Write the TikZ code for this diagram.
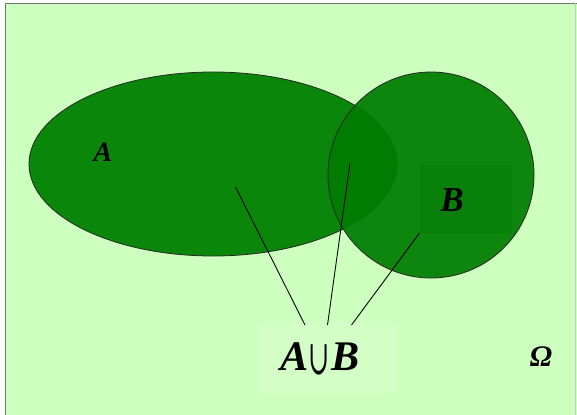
\documentclass[tikz,border=0pt]{standalone}
\usepackage{fontspec}
\setmainfont{Liberation Serif}
\newfontfamily\setsymfont{DejaVu Serif}
\usepackage{tikz}

\definecolor{bgGreen}{RGB}{205,255,190}
\definecolor{boxGreen}{RGB}{211,255,198}
\definecolor{setA}{RGB}{10,135,10}
\definecolor{setB}{RGB}{0,125,0}
\definecolor{boxB}{RGB}{9,128,9}
\definecolor{frameGray}{RGB}{110,120,110}

\begin{document}
\begin{tikzpicture}[x=0.02cm, y=-0.02cm,
    setline/.style={draw=black!85, line width=0.45pt},
    pointer/.style={draw=black, line width=0.5pt},
    lbl/.style={inner sep=0pt, font=\bfseries\itshape}]
    % Frame
    \useasboundingbox (0,0) rectangle (577,415);
    \fill [white] (0,0) rectangle (577,415);
    \fill [bgGreen] (5,3) rectangle (577,415);
    \draw [frameGray, line width=1pt] (5.5,415) -- (5.5,3.5) -- (577,3.5);
    \draw [frameGray!40, line width=0.5pt] (575.5,3.5) -- (575.5,415);

    % Sets
    \path [setline, fill=setA] (213,164) ellipse [x radius=184, y radius=92];
    \path [setline, fill=setB, fill opacity=0.93] (431,175) circle [radius=103];
    \fill [boxB] (420,165) rectangle (512,233);
    \fill [boxGreen] (258,323) rectangle (396,393);

    % Nodes
    \node [lbl, font=\fontsize{16}{18}\selectfont\bfseries\itshape] (labA) at (103,152) {A};
    \node [lbl, font=\fontsize{20}{22}\selectfont\bfseries\itshape] (labB) at (452,200) {B};
    \node [lbl, font=\fontsize{17}{19}\selectfont\bfseries\itshape] (omega) at (541,357) {Ω};
    \node [lbl, font=\fontsize{24}{26}\selectfont\bfseries\itshape] (union) at (320,359)
           {A\raisebox{-0.08em}{\scalebox{0.6}[1.15]{\setsymfont\mdseries\upshape ∪}}\kern0.05em B};

    % Pointer ends
    \coordinate (inA)  at (235.5,187);
    \coordinate (inAB) at (350,163);
    \coordinate (inB)  at (419.5,233);
    \coordinate (toA)  at (305,325);
    \coordinate (toAB) at (327.5,325);
    \coordinate (toB)  at (351.5,325);

    % Paths
    \path [pointer] (inA)  -- (toA);
    \path [pointer] (inAB) -- (toAB);
    \path [pointer] (inB)  -- (toB);
\end{tikzpicture}
\end{document}
